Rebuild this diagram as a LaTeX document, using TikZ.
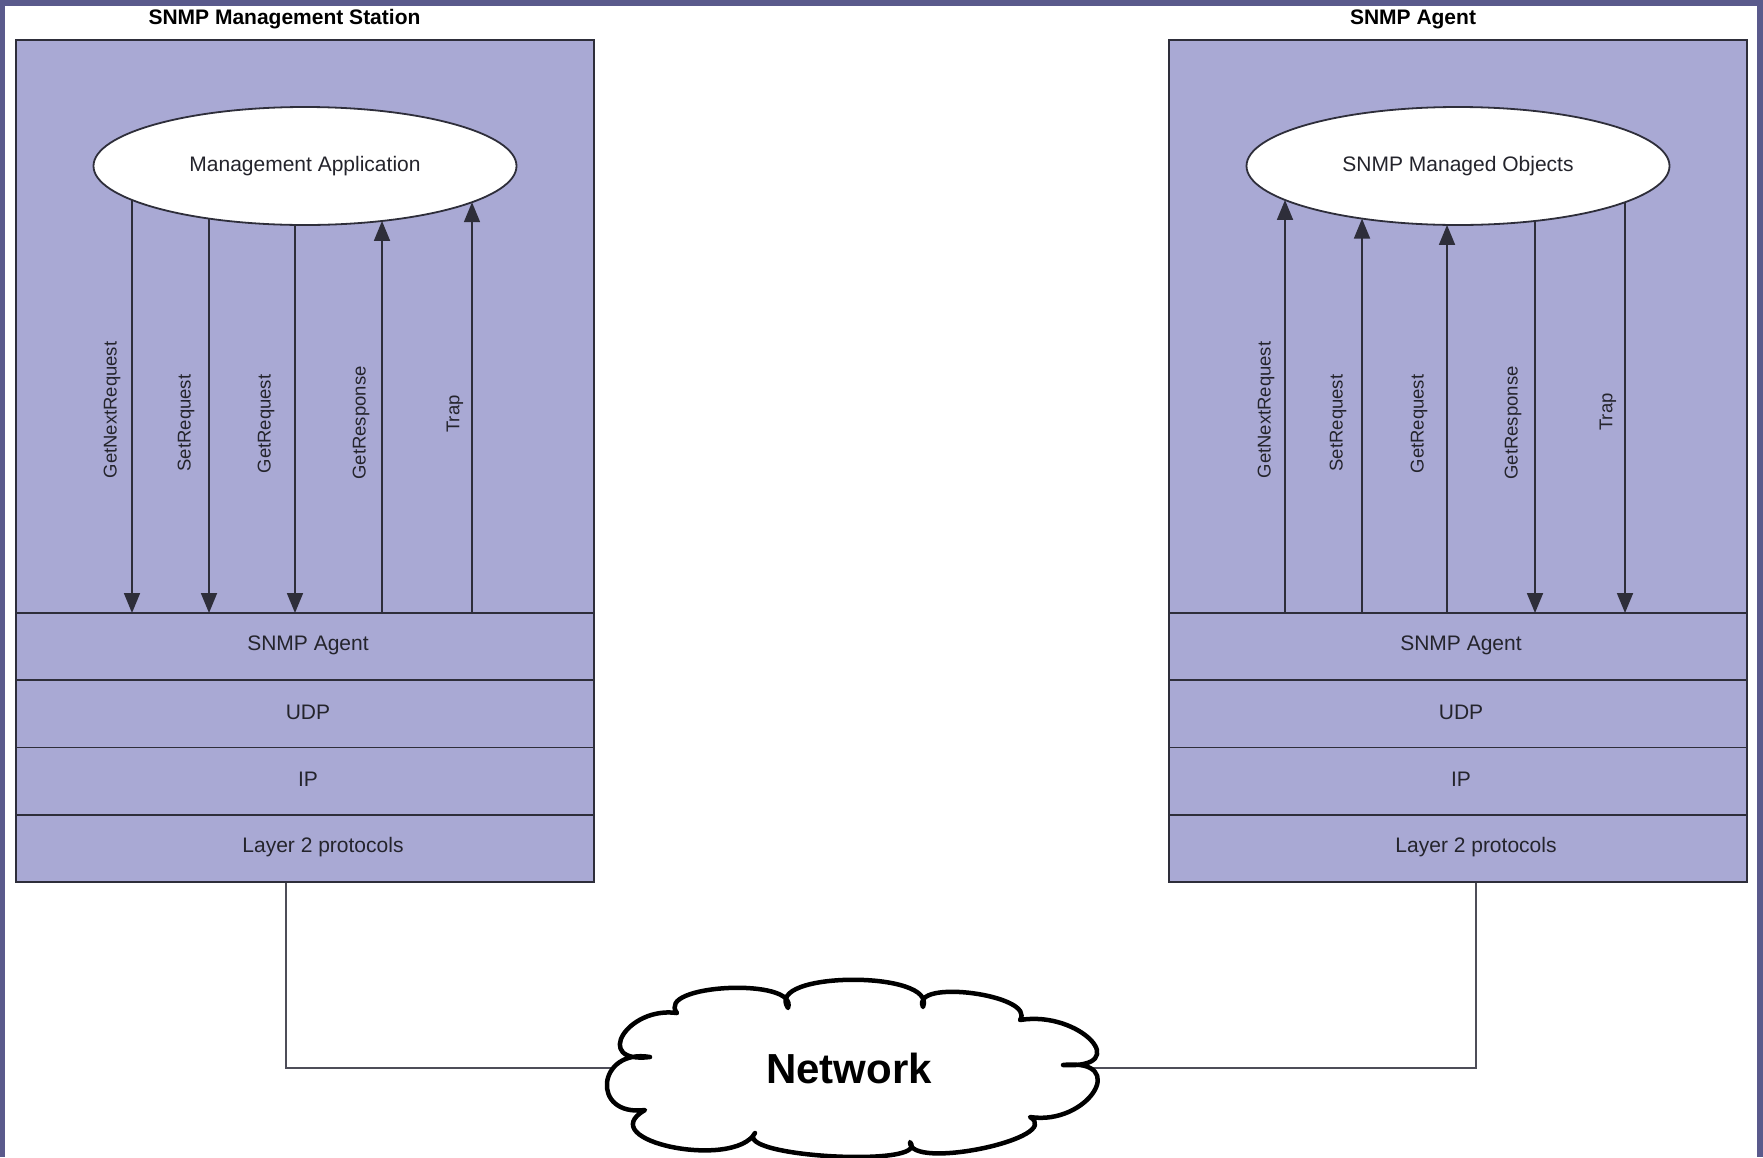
\documentclass[tikz,border=0pt]{standalone}
\usepackage{fontspec}
\setmainfont{Liberation Sans}
\usetikzlibrary{shapes.geometric,arrows.meta,intersections}

\definecolor{slide}{HTML}{5A5A8C}
\definecolor{stackfill}{HTML}{A9A9D4}
\definecolor{edge}{HTML}{2E2E3A}
\definecolor{ink}{HTML}{24242C}

\pgfdeclarelayer{frame}
\pgfdeclarelayer{wires}
\pgfsetlayers{frame,wires,main}

% a message arrow between an ellipse (named path #1) and the top of a layer row #3, at x = #2
\newcommand\msgarrow[4]{%
  \path[name path=vline] (#2,700) -- (#2,0);
  \draw[#4, name intersections={of=#1 and vline, sort by=vline}]
    (intersection-1) -- (#3.north -| intersection-1);
}

\begin{document}
\begin{tikzpicture}[x=1pt, y=-1pt,
  stackbox/.style={draw=edge, line width=1.8pt, fill=stackfill, anchor=north west,
    minimum width=578pt, inner sep=0pt, outer sep=0pt},
  rowbox/.style={stackbox, minimum height=67.25pt},
  rowtext/.style={text=ink, font=\fontsize{21}{24}\selectfont, inner sep=0pt},
  app/.style={ellipse, draw=edge, line width=1.8pt, fill=white, inner sep=0pt,
    minimum width=423pt, minimum height=118pt, text=ink,
    font=\fontsize{21}{24}\selectfont},
  title/.style={font=\bfseries\fontsize{21}{24}\selectfont, inner sep=0pt},
  msglabel/.style={rotate=90, text=ink, font=\fontsize{18.5}{21}\selectfont, inner sep=0pt},
  msgline/.style={draw=edge, line width=1.8pt},
  msgdown/.style={msgline, -{Triangle[length=20pt, width=16pt]}},
  msgup/.style={msgline, {Triangle[length=20pt, width=16pt]}-},
  link/.style={draw=edge!85, line width=1.6pt},
  cloudline/.style={draw=black, line width=4.5pt, fill=white, line join=round},
  nettext/.style={font=\bfseries\fontsize{42}{46}\selectfont, inner sep=2pt}
]
\useasboundingbox (0,0) rectangle (1763,1157);

% slide frame
\begin{pgfonlayer}{frame}
\fill[slide] (0,0) rectangle (1763,1157);
\fill[white] (5,6) rectangle (1757,1157);
\end{pgfonlayer}

% ---------- management station ----------
\node[title] (tL) at (284.5,19) {SNMP Management Station};
\node[stackbox, minimum height=842pt] (stL) at (16,40) {};
\node[rowbox] (r1L) at (16,613) {};
\node[rowbox] (r2L) at (16,680.25) {};
\node[rowbox] (r3L) at (16,747.5) {};
\node[rowbox] (r4L) at (16,814.75) {};
\node[rowtext] at (308,645) {SNMP Agent};
\node[rowtext] at (308,712) {UDP};
\node[rowtext] at (308,779) {IP};
\node[rowtext] at (323,847) {Layer 2 protocols};

\node[app] (maL) at (305,166) {Management Application};
\path[name path=maLb] (maL.center) ellipse [x radius=211.5pt, y radius=59pt];

\msgarrow{maLb}{132}{r1L}{msgdown}
\msgarrow{maLb}{209}{r1L}{msgdown}
\msgarrow{maLb}{295}{r1L}{msgdown}
\msgarrow{maLb}{382}{r1L}{msgup}
\msgarrow{maLb}{472}{r1L}{msgup}

\node[msglabel] (aL1) at (112,410) {GetNextRequest};
\node[msglabel] (aL2) at (186,423) {SetRequest};
\node[msglabel] (aL3) at (266,424) {GetRequest};
\node[msglabel] (aL4) at (361,423) {GetResponse};
\node[msglabel] (aL5) at (455,414) {Trap};

% ---------- agent ----------
\node[title] (tR) at (1413,19) {SNMP Agent};
\node[stackbox, minimum height=842pt] (stR) at (1169,40) {};
\node[rowbox] (r1R) at (1169,613) {};
\node[rowbox] (r2R) at (1169,680.25) {};
\node[rowbox] (r3R) at (1169,747.5) {};
\node[rowbox] (r4R) at (1169,814.75) {};
\node[rowtext] at (1461,645) {SNMP Agent};
\node[rowtext] at (1461,712) {UDP};
\node[rowtext] at (1461,779) {IP};
\node[rowtext] at (1476,847) {Layer 2 protocols};

\node[app] (moR) at (1458,166) {SNMP Managed Objects};
\path[name path=moRb] (moR.center) ellipse [x radius=211.5pt, y radius=59pt];

\msgarrow{moRb}{1285}{r1R}{msgup}
\msgarrow{moRb}{1362}{r1R}{msgup}
\msgarrow{moRb}{1447}{r1R}{msgup}
\msgarrow{moRb}{1535}{r1R}{msgdown}
\msgarrow{moRb}{1625}{r1R}{msgdown}

\node[msglabel] (aR1) at (1266,410) {GetNextRequest};
\node[msglabel] (aR2) at (1338,423) {SetRequest};
\node[msglabel] (aR3) at (1419,424) {GetRequest};
\node[msglabel] (aR4) at (1513,423) {GetResponse};
\node[msglabel] (aR5) at (1608,412) {Trap};

% ---------- network cloud ----------
\filldraw[cloudline] (650,1057)
  .. controls (592,1064) and (627,1006) .. (677,1013)
  .. controls (654,984) and (799,977) .. (788,1008)
  .. controls (763,971) and (938,970) .. (923,1007)
  .. controls (910,978) and (1037,995) .. (1020,1020)
  .. controls (1080,1010) and (1135,1069) .. (1063,1065)
  .. controls (1131,1058) and (1088,1126) .. (1030,1117)
  .. controls (1065,1138) and (909,1171) .. (910,1142)
  .. controls (932,1168) and (731,1157) .. (755,1133)
  .. controls (734,1170) and (591,1141) .. (645,1110)
  .. controls (590,1117) and (597,1048) .. (650,1057) -- cycle;
\node[nettext] (net) at (849,1068) {Network};

% links from the stacks down to the network (the cloud hides their inner ends)
\coordinate (pL) at (286,882);
\coordinate (pR) at (1476,882);
\begin{pgfonlayer}{wires}
\draw[link] (pL) |- (net);
\draw[link] (pR) |- (net);
\end{pgfonlayer}
\end{tikzpicture}
\end{document}
